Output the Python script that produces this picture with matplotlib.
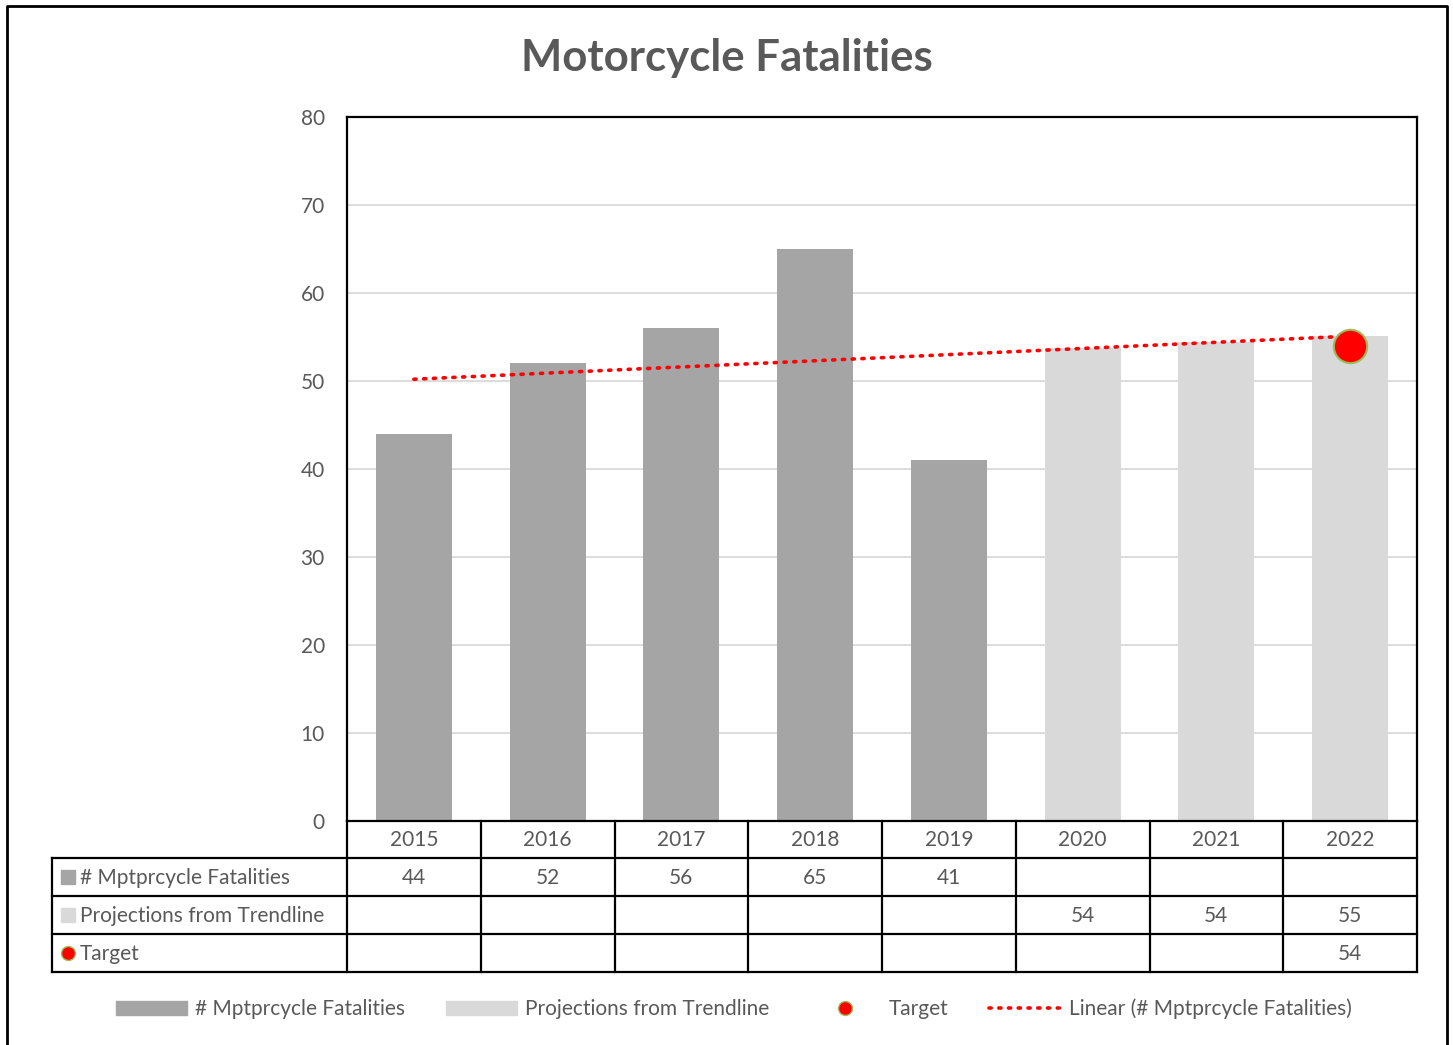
import matplotlib
matplotlib.use("Agg")
import matplotlib.pyplot as plt
import matplotlib.transforms as mtransforms
from matplotlib.lines import Line2D
from matplotlib.patches import Patch
import numpy as np

plt.rcParams['font.family'] = ['Lato', 'DejaVu Sans']

years = ["2015", "2016", "2017", "2018", "2019", "2020", "2021", "2022"]
fatalities = [44, 52, 56, 65, 41]
projections = [53.7, 54.4, 55.1]
projection_labels = ["54", "54", "55"]
target = 54

text_col = "#595959"
dark_bar = "#A5A5A5"
light_bar = "#D9D9D9"

W, H = 1453, 1045
fig = plt.figure(figsize=(W / 100, H / 100), dpi=100)

def fy(py):
    return 1 - py / H

def fx(px):
    return px / W

ax = fig.add_axes([fx(347), fy(821), fx(1417) - fx(347), fy(117) - fy(821)])

x = np.arange(len(years))
ax.bar(x[:5], fatalities, width=0.57, color=dark_bar, zorder=2)
ax.bar(x[5:], projections, width=0.57, color=light_bar, zorder=2)

# linear trendline through the actual values, extended over all years
coef = np.polyfit(x[:5] + 1, fatalities, 1)
trend = np.polyval(coef, x + 1)
ax.plot(x, trend, color="red", lw=2.6, linestyle=(0, (0.6, 2.1)),
        dash_capstyle="round", zorder=3)

ax.plot(x[7], target, "o", ms=24, mfc="red", mec="#9BBB59", mew=1.5, zorder=4)

ax.set_xlim(-0.5, len(years) - 0.5)
ax.set_ylim(0, 80)
ax.set_yticks(range(0, 81, 10))
ax.set_xticks([])
ax.tick_params(axis="y", length=0, pad=16, labelsize=15, labelcolor=text_col)
ax.yaxis.grid(True, color="#D9D9D9", lw=1.3, zorder=0)
ax.set_axisbelow(True)
for s in ax.spines.values():
    s.set_color("black")
    s.set_linewidth(1.6)

fig.text(0.5, fy(58), "Motorcycle Fatalities", ha="center", va="center",
         fontsize=31.5, fontweight="bold", color=text_col)

# data table under the axes
tr = mtransforms.blended_transform_factory(ax.transData, fig.transFigure)
row_lines = [821, 858, 896, 934, 972]
lw = 1.6
fs = 15
for i, yr in enumerate(years):
    ax.text(i, fy(840.5), yr, transform=tr, ha="center", va="center",
            fontsize=fs, color=text_col)
for b in np.arange(-0.5, len(years)):
    ax.add_line(Line2D([b, b], [fy(821), fy(972)], transform=tr, color="black",
                       lw=lw, clip_on=False))
for py in row_lines[1:]:
    fig.add_artist(Line2D([fx(52), fx(1417)], [fy(py), fy(py)], color="black", lw=lw))
fig.add_artist(Line2D([fx(52), fx(52)], [fy(858), fy(972)], color="black", lw=lw))

row_names = ["# Mptprcycle Fatalities", "Projections from Trendline", "Target"]
row_centers = [878, 916, 954]
for name, py in zip(row_names, row_centers):
    fig.text(fx(80), fy(py), name, ha="left", va="center", fontsize=fs, color=text_col)
fig.add_artist(plt.Rectangle((fx(61), fy(884)), fx(14), 14 / H, color=dark_bar))
fig.add_artist(plt.Rectangle((fx(61), fy(922)), fx(14), 14 / H, color=light_bar))
fig.add_artist(Line2D([fx(68)], [fy(953)], marker="o", ms=10, mfc="red",
                      mec="#9BBB59", mew=1))

for i, v in enumerate(fatalities):
    ax.text(i, fy(878), str(v), transform=tr, ha="center", va="center",
            fontsize=fs, color=text_col)
for i, v in zip(x[5:], projection_labels):
    ax.text(i, fy(916), v, transform=tr, ha="center", va="center",
            fontsize=fs, color=text_col)
ax.text(x[7], fy(954), str(target), transform=tr, ha="center", va="center",
        fontsize=fs, color=text_col)

# legend
handles = [
    Patch(color=dark_bar),
    Patch(color=light_bar),
    Line2D([], [], ls="none", marker="o", ms=10, mfc="red", mec="#9BBB59", mew=1),
    Line2D([], [], color="red", lw=2.6, linestyle=(0, (0.6, 2.1)), dash_capstyle="round"),
]
labels = ["# Mptprcycle Fatalities", "Projections from Trendline", "Target",
          "Linear (# Mptprcycle Fatalities)"]
leg = fig.legend(handles, labels, loc="center", bbox_to_anchor=(0.505, fy(1009)),
                 ncol=4, frameon=False, fontsize=fs, handlelength=3.4,
                 handleheight=0.6, columnspacing=1.95, handletextpad=0.4)
for t in leg.get_texts():
    t.set_color(text_col)

# outer border of the chart area
fig.add_artist(Line2D([fx(7), fx(7), fx(1447), fx(1447)], [0, fy(6), fy(6), 0],
                      color="black", lw=2))

fig.savefig("out.png", dpi=100)
